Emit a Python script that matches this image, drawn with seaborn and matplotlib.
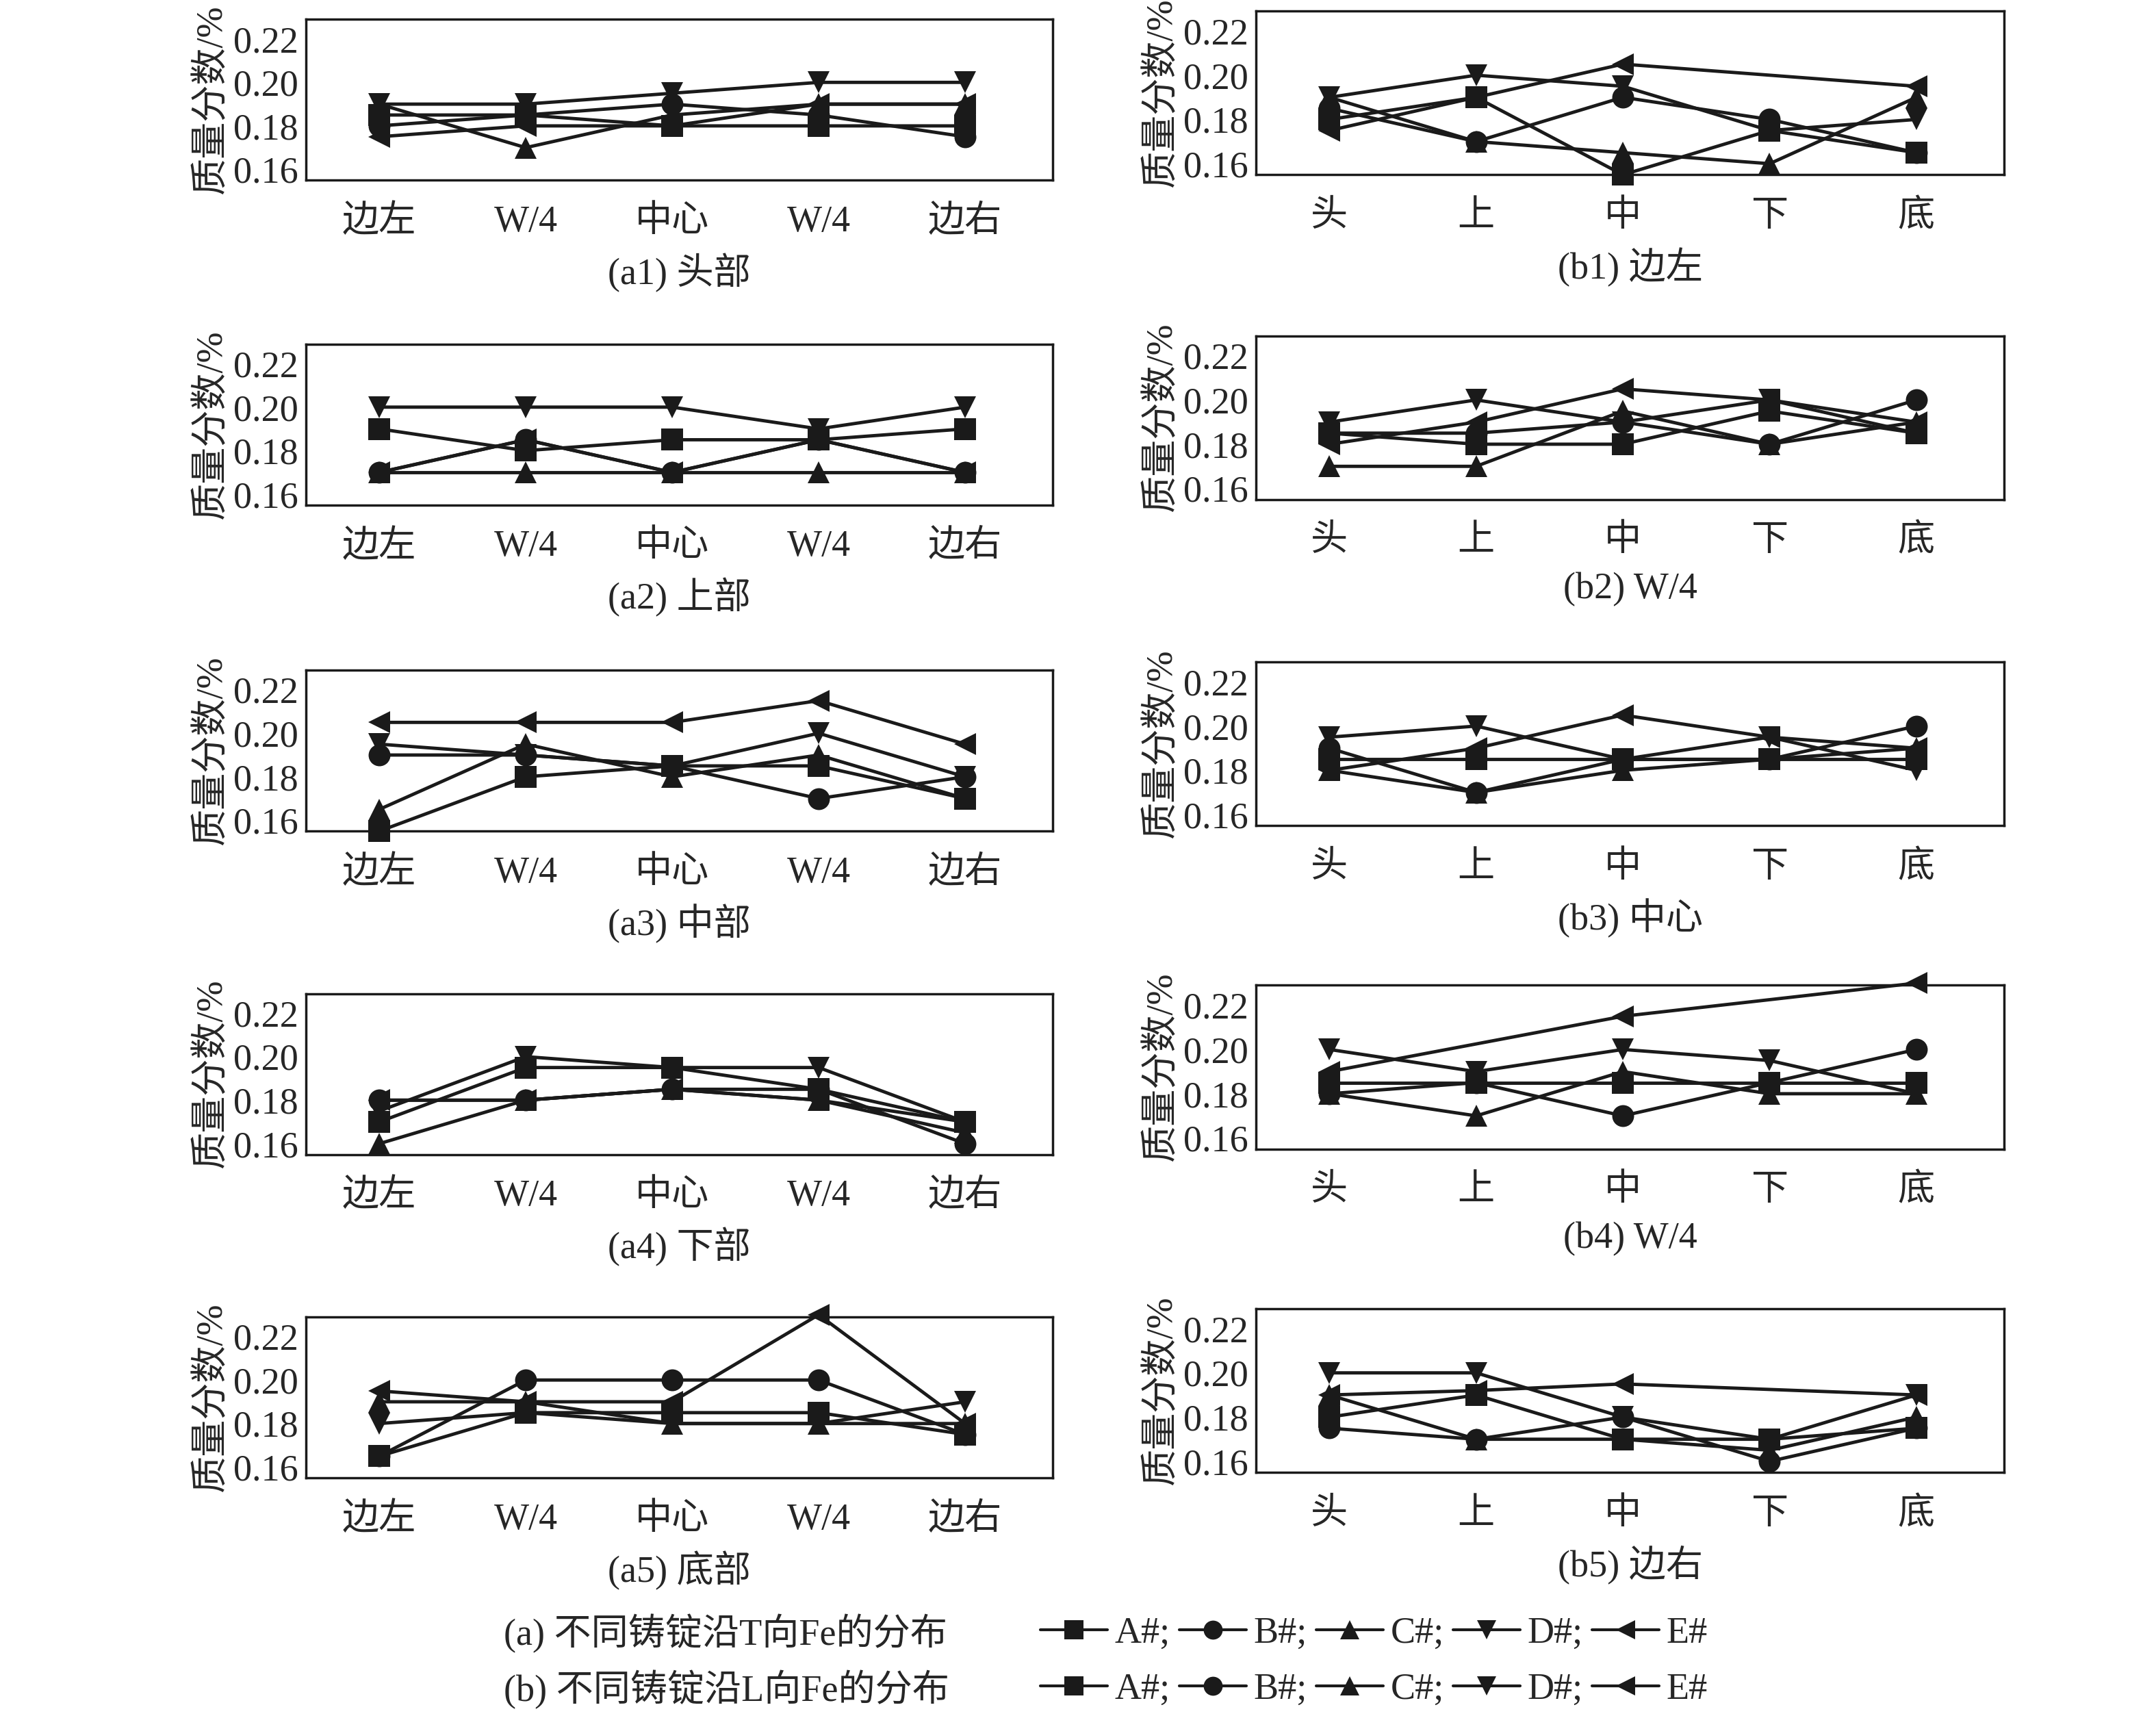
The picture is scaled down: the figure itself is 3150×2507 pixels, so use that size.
import numpy as np
import matplotlib
matplotlib.use("Agg")
import matplotlib.pyplot as plt
import seaborn as sns
import pandas as pd
from matplotlib.lines import Line2D

sns.set_theme(style="white")
plt.rcParams['font.family'] = ['Liberation Serif', 'Noto Sans CJK SC']

series = ['A#', 'B#', 'C#', 'D#', 'E#']
markers = ['s', 'o', '^', 'v', '<']
t_labels = ['边左', 'W/4', '中心', 'W/4', '边右']
l_labels = ['头', '上', '中', '下', '底']
nan = np.nan

a1 = [[.185,.185,.18,.18,.18],[.18,.185,.19,.185,.175],[.19,.17,.185,.19,.19],[.19,.19,.195,.2,.2],[.175,.18,.18,.19,.19]]
a2 = [[.19,.18,.185,.185,.19],[.17,.185,.17,.185,.17],[.17,.17,.17,.17,.17],[.2,.2,.2,.19,.2],[.17,.185,.17,.185,.17]]
a3 = [[.155,.18,.185,.185,.17],[.19,.19,.185,.17,.18],[.165,.195,.18,.19,.17],[.195,.19,.185,.2,.18],[.205,.205,.205,.215,.195]]
a4 = [[.17,.195,.195,.185,.17],[.18,.18,.185,.185,.16],[.16,.18,.185,.18,.165],[.175,.2,.195,.195,.17],[.18,.18,.185,.18,.17]]
a5 = [[.165,.185,.185,.185,.175],[.165,.2,.2,.2,.175],[.19,.19,.18,.18,.18],[.18,.185,.18,.18,.19],[.195,.19,.19,.23,.18]]
b1 = [[.18,.19,.155,.175,.165],[.185,.17,.19,.18,.165],[.19,.17,.165,.16,.19],[.19,.2,.195,.175,.18],[.175,.19,.205,nan,.195]]
b2 = [[.185,.18,.18,.195,.185],[.185,.185,.19,.18,.2],[.17,.17,.195,.18,.19],[.19,.2,.19,.2,.185],[.18,.19,.205,.2,.19]]
b3 = [[.185,.185,.185,.185,.185],[.19,.17,.185,.185,.2],[.18,.17,.18,.185,.19],[.195,.2,.185,.195,.18],[.18,.19,.205,.195,.19]]
b4 = [[.185,.185,.185,.185,.185],[.18,.185,.17,.185,.2],[.18,.17,.19,.18,.18],[.2,.19,.2,.195,.18],[.19,nan,.215,nan,.23]]
b5 = [[.18,.19,.17,.17,.175],[.175,.17,.18,.16,.175],[.19,.17,.17,.165,.18],[.2,.2,.18,.17,.19],[.19,.192,.195,nan,.19]]

left = [(a1,'(a1) 头部'),(a2,'(a2) 上部'),(a3,'(a3) 中部'),(a4,'(a4) 下部'),(a5,'(a5) 底部')]
right = [(b1,'(b1) 边左'),(b2,'(b2) W/4'),(b3,'(b3) 中心'),(b4,'(b4) W/4'),(b5,'(b5) 边右')]

fig = plt.figure(figsize=(31.5, 25.07), dpi=100)
tops = [14, 250, 487, 722, 957]
FS = 39

def draw(ax, data, xl, title):
    rows = []
    for s, vals in zip(series, data):
        for i, v in enumerate(vals):
            if not np.isnan(v):
                rows.append(dict(x=i, y=v, s=s))
    df = pd.DataFrame(rows)
    for s, m in zip(series, markers):
        sub = df[df.s == s]
        sns.lineplot(data=sub, x='x', y='y', ax=ax, color='#1a1a1a', lw=3.5,
                     marker=m, markersize=23, markeredgewidth=0, legend=False, clip_on=False)
    ax.set_xlim(-0.5, 4.6)
    ax.set_ylim(0.155, 0.229)
    ax.set_xticks(range(5))
    ax.set_xticklabels(xl, fontsize=FS)
    ax.set_yticks([0.16, 0.18, 0.20, 0.22])
    ax.set_yticklabels(['0.16', '0.18', '0.20', '0.22'], fontsize=FS)
    ax.tick_params(direction='in', length=12, width=2.5, color='#1a1a1a', pad=8)
    ax.tick_params(axis='x', pad=26)
    ax.set_xlabel(title, fontsize=FS, labelpad=14)
    ax.set_ylabel('质量分数/%', fontsize=FS, labelpad=4)
    for sp in ax.spines.values():
        sp.set_color('#1a1a1a'); sp.set_linewidth(2.5)

H = 1247
for (d, t), top in zip(left, tops):
    ax = fig.add_axes([220/1550, 1 - (top + 117)/H, 537/1550, 117/H])
    draw(ax, d, t_labels, t)
for (d, t), top in zip(right, tops):
    ax = fig.add_axes([903/1550, 1 - (top - 6 + 119)/H, 538/1550, 119/H])
    draw(ax, d, l_labels, t)

for yy, txt in [(1187, '(a) 不同铸锭沿T向Fe的分布'), (1228, '(b) 不同铸锭沿L向Fe的分布')]:
    fig.text(362/1550, 1 - yy/H, txt, fontsize=FS, va='center', ha='left')
    handles = [Line2D([], [], color='#1a1a1a', lw=3, marker=m, markersize=20, markeredgewidth=0) for m in markers]
    labs = ['A#;', 'B#;', 'C#;', 'D#;', 'E#']
    fig.legend(handles, labs, loc='center left', bbox_to_anchor=(748/1550, 1 - yy/H), ncol=5,
               frameon=False, fontsize=FS, handlelength=1.8, handletextpad=0.2, columnspacing=0.25,
               borderpad=0, borderaxespad=0)

fig.savefig('out.png', dpi=100)
